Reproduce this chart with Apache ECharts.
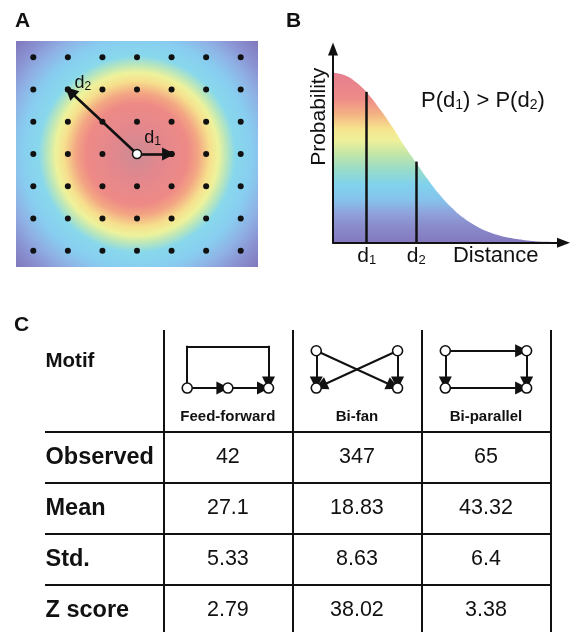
<!DOCTYPE html>
<html><head><meta charset="utf-8">
<script src="https://cdn.jsdelivr.net/npm/echarts@6.0.0/dist/echarts.min.js"></script>
<style>html,body{margin:0;padding:0;background:#fff;}#main{width:572px;height:632px;}</style>
</head><body><div id="main"></div>
<script>
// ---------------- data ----------------
// Panel A: lattice of neuron positions, source neuron and two targets
const latticeCols = [0, 1, 2, 3, 4, 5, 6];
const latticeRows = [0, 1, 2, 3, 4, 5, 6];
const sourcePos = [3, 3];
const target1Pos = [4, 3];
const target2Pos = [1, 1];

// Panel B: connection probability vs distance
const distance = [0, 0.5, 1, 1.5, 2, 2.5, 3, 3.5, 4, 4.5, 5, 5.5, 6, 6.5, 7, 7.5, 8, 8.5, 9, 9.5];
const probability = [1.0, 0.985, 0.94, 0.87, 0.78, 0.68, 0.57, 0.47, 0.37, 0.28, 0.205, 0.145, 0.1, 0.066, 0.043, 0.027, 0.016, 0.009, 0.005, 0.003];
const markNames = ['1', '2'];
const markDistance = [1.42, 3.5];
const markProbability = [0.887, 0.477];

// Panel C: motif table
const motifNames = ['Feed-forward', 'Bi-fan', 'Bi-parallel'];
const rowNames = ['Observed', 'Mean', 'Std.', 'Z score'];
const observed = [42, 347, 65];
const meanVals = [27.1, 18.83, 43.32];
const stdVals = [5.33, 8.63, 6.4];
const zScores = [2.79, 38.02, 3.38];
// motif topologies: nodes on a tiny lattice (x 0..1, row 0 = top, 1 = bottom) and directed edges
const motifNodes = [
  [[0, 1], [0.5, 1], [1, 1]],
  [[0, 0], [1, 0], [0, 1], [1, 1]],
  [[0, 0], [1, 0], [0, 1], [1, 1]]
];
const motifEdges = [
  [[0, 1], [1, 2]],
  [[0, 2], [1, 3], [0, 3], [1, 2]],
  [[0, 1], [0, 2], [1, 3], [2, 3]]
];
const motifBypass = [[0, 2], null, null]; // edge routed as a bracket over the top

// ---------------- layout / style ----------------
const FONT = "'Liberation Sans', Arial, Helvetica, sans-serif";
const INK = '#111111';
const colLines = [0, 1, 2, 3];
const rowLines = [2, 3, 4, 5];
const labelX = -0.917;
const motifSpan = 0.63, motifRowY = [0.407, 1.14], bracketY = 0.328;
const subRich = (size, pad) => ({ s: { fontSize: size, padding: [pad, 0, 0, 0], fontFamily: FONT, color: INK } });

const heat = new echarts.graphic.RadialGradient(0.5, 0.5, 0.75, [
  { offset: 0, color: '#cd8b93' },
  { offset: 0.15, color: '#e3878d' },
  { offset: 0.3, color: '#ee8a86' },
  { offset: 0.36, color: '#f3a583' },
  { offset: 0.43, color: '#f6df8d' },
  { offset: 0.48, color: '#eef29b' },
  { offset: 0.53, color: '#b8e6bc' },
  { offset: 0.58, color: '#88d8ec' },
  { offset: 0.68, color: '#88cdf0' },
  { offset: 0.78, color: '#8fb0e4' },
  { offset: 0.87, color: '#8a92d2' },
  { offset: 1, color: '#7d72b8' }
]);
const rainbow = new echarts.graphic.LinearGradient(0, 0, 0, 1, [
  { offset: 0, color: '#e5808f' },
  { offset: 0.15, color: '#ee8a88' },
  { offset: 0.24, color: '#f4b083' },
  { offset: 0.33, color: '#f6e48e' },
  { offset: 0.4, color: '#eef09a' },
  { offset: 0.48, color: '#c2e6a8' },
  { offset: 0.57, color: '#98dcc8' },
  { offset: 0.66, color: '#80d2ee' },
  { offset: 0.75, color: '#86c2ec' },
  { offset: 0.82, color: '#8fa4dc' },
  { offset: 0.9, color: '#8a8ccc' },
  { offset: 1, color: '#8378be' }
]);

// ---------------- derived series data ----------------
const latticeData = [];
latticeRows.forEach(r => latticeCols.forEach(c => latticeData.push([c, r])));

const curveData = distance.map((x, i) => [x, probability[i]]);
const markSegments = markDistance.map((x, i) => [{ coord: [x, 0] }, { coord: [x, markProbability[i]] }]);

const valueCells = [];
[observed, meanVals, stdVals, zScores].forEach((row, r) => row.forEach((v, c) => {
  valueCells.push({ value: [c + 0.5, r + 2.5], text: String(v) });
}));
const rowLabelCells = [{ value: [labelX, 0.61], text: 'Motif', label: { fontSize: 20.5 } }]
  .concat(rowNames.map((n, r) => ({ value: [labelX, r + 2.5], text: n })));
const motifLabelCells = motifNames.map((n, m) => ({ value: [m + 0.5, 1.71], text: n }));

const mNodes = [], mLinks = [];
const mx = (m, lx) => m + 0.5 + (lx - 0.5) * motifSpan;
motifNodes.forEach((nodes, m) => {
  nodes.forEach((n, j) => mNodes.push({ name: 'm' + m + 'n' + j, value: [mx(m, n[0]), motifRowY[n[1]]] }));
  motifEdges[m].forEach(e => mLinks.push({ source: 'm' + m + 'n' + e[0], target: 'm' + m + 'n' + e[1] }));
  const b = motifBypass[m];
  if (b) {
    const hidden = { symbolSize: 0, itemStyle: { borderWidth: 0, color: 'rgba(0,0,0,0)' } };
    mNodes.push(Object.assign({ name: 'm' + m + 'w0', value: [mx(m, nodes[b[0]][0]), bracketY] }, hidden));
    mNodes.push(Object.assign({ name: 'm' + m + 'w1', value: [mx(m, nodes[b[1]][0]), bracketY] }, hidden));
    mLinks.push({ source: 'm' + m + 'n' + b[0], target: 'm' + m + 'w0', symbol: ['none', 'none'], lineStyle: { cap: 'square' } });
    mLinks.push({ source: 'm' + m + 'w0', target: 'm' + m + 'w1', symbol: ['none', 'none'], lineStyle: { cap: 'square' } });
    mLinks.push({ source: 'm' + m + 'w1', target: 'm' + m + 'n' + b[1], lineStyle: { cap: 'square' } });
  }
});

const dLabel = (k, dx, dy) => ({
  show: true, position: 'inside', offset: [dx, dy], formatter: 'd{s|' + k + '}',
  fontSize: 18, color: INK, fontFamily: FONT, rich: subRich(12, 7)
});
const textItem = { color: 'rgba(0,0,0,0)', opacity: 1 };

const option = {
  animation: false,
  backgroundColor: '#fff',
  textStyle: { fontFamily: FONT },
  title: [
    { text: 'A', left: 15, top: 11, padding: 0, textStyle: { fontSize: 21, fontWeight: 'bold', color: INK, fontFamily: FONT } },
    { text: 'B', left: 286, top: 11, padding: 0, textStyle: { fontSize: 21, fontWeight: 'bold', color: INK, fontFamily: FONT } },
    { text: 'C', left: 14, top: 315, padding: 0, textStyle: { fontSize: 21, fontWeight: 'bold', color: INK, fontFamily: FONT } },
    { text: 'P(d{s|' + markNames[0] + '}) > P(d{s|' + markNames[1] + '})', left: 421, top: 89, padding: 0,
      textStyle: { fontSize: 22, fontWeight: 'normal', color: INK, fontFamily: FONT, rich: subRich(14, 9) } }
  ],
  grid: [
    { left: 16, top: 41, width: 242, height: 226, show: true, backgroundColor: heat, borderWidth: 0 },
    { left: 333, top: 49, right: 8.5, bottom: 389.3 },
    { left: 45, right: 21.5, top: 330, bottom: 0 }
  ],
  xAxis: [
    { gridIndex: 0, type: 'value', min: -0.5, max: 6.5, show: false },
    { gridIndex: 1, type: 'value', min: 0, max: 9.7, z: 10,
      axisLine: { show: true, symbol: ['none', 'triangle'], symbolSize: [10, 13], lineStyle: { color: INK, width: 2 } },
      axisTick: { show: false }, splitLine: { show: false },
      axisLabel: { customValues: markDistance, margin: 3, fontSize: 21, color: INK, fontFamily: FONT, rich: subRich(13, 8),
        formatter: v => 'd{s|' + markNames[markDistance.indexOf(v)] + '}' },
      name: 'Distance', nameLocation: 'end', nameGap: -25,
      nameTextStyle: { fontSize: 22, color: INK, fontFamily: FONT, align: 'right', verticalAlign: 'top', padding: [2, 0, 0, 0] } },
    { gridIndex: 2, type: 'value', min: labelX, max: 3, show: false }
  ],
  yAxis: [
    { gridIndex: 0, type: 'value', min: -0.5, max: 6.5, inverse: true, show: false },
    { gridIndex: 1, type: 'value', min: 0, max: 1.139, z: 10,
      axisLine: { show: true, symbol: ['none', 'triangle'], symbolSize: [10, 13], lineStyle: { color: INK, width: 2 } },
      axisTick: { show: false }, splitLine: { show: false }, axisLabel: { show: false },
      name: 'Probability', nameLocation: 'middle', nameGap: 3,
      nameTextStyle: { fontSize: 21, color: INK, fontFamily: FONT, padding: [0, 0, 0, 58] } },
    { gridIndex: 2, type: 'value', min: 0, max: 5.93, inverse: true, show: false }
  ],
  series: [
    { type: 'scatter', xAxisIndex: 0, yAxisIndex: 0, silent: true, symbolSize: 6, itemStyle: { color: INK, opacity: 1 }, data: latticeData },
    { type: 'graph', layout: 'none', coordinateSystem: 'cartesian2d', xAxisIndex: 0, yAxisIndex: 0, silent: true, z: 5,
      edgeSymbol: ['none', 'triangle'], edgeSymbolSize: 13,
      lineStyle: { color: INK, width: 2.6, opacity: 1, curveness: 0 },
      data: [
        { name: 'src', value: sourcePos, symbolSize: 9, itemStyle: { color: '#fff', borderColor: INK, borderWidth: 1.5 } },
        { name: 't1', value: target1Pos, symbolSize: 6, itemStyle: { color: INK }, label: dLabel(markNames[0], -19, -16) },
        { name: 't2', value: target2Pos, symbolSize: 6, itemStyle: { color: INK }, label: dLabel(markNames[1], 15, -6) }
      ],
      links: [{ source: 'src', target: 't1' }, { source: 'src', target: 't2' }] },
    { type: 'line', xAxisIndex: 1, yAxisIndex: 1, silent: true, smooth: true, symbol: 'none',
      lineStyle: { width: 0, opacity: 0 }, areaStyle: { color: rainbow, opacity: 1 }, data: curveData,
      markLine: { silent: true, symbol: 'none', label: { show: false }, lineStyle: { color: INK, width: 2.5, type: 'solid' }, data: markSegments } },
    { type: 'scatter', xAxisIndex: 2, yAxisIndex: 2, silent: true, symbolSize: 1, itemStyle: textItem,
      label: { show: true, position: 'inside', fontSize: 21.5, color: INK, fontFamily: FONT, formatter: p => p.data.text },
      data: valueCells,
      markLine: { silent: true, symbol: 'none', label: { show: false }, lineStyle: { color: INK, width: 2, type: 'solid' },
        data: colLines.map(v => ({ xAxis: v })).concat(rowLines.map(v => ({ yAxis: v }))) } },
    { type: 'scatter', xAxisIndex: 2, yAxisIndex: 2, silent: true, symbolSize: 1, itemStyle: textItem,
      label: { show: true, position: 'right', distance: 0, fontSize: 23.5, fontWeight: 'bold', color: INK, fontFamily: FONT, formatter: p => p.data.text },
      data: rowLabelCells },
    { type: 'scatter', xAxisIndex: 2, yAxisIndex: 2, silent: true, symbolSize: 1, itemStyle: textItem,
      label: { show: true, position: 'inside', fontSize: 15, fontWeight: 'bold', color: INK, fontFamily: FONT, formatter: p => p.data.text },
      data: motifLabelCells },
    { type: 'graph', layout: 'none', coordinateSystem: 'cartesian2d', xAxisIndex: 2, yAxisIndex: 2, silent: true, z: 5,
      symbolSize: 10, itemStyle: { color: '#fff', borderColor: INK, borderWidth: 1.6 },
      edgeSymbol: ['none', 'triangle'], edgeSymbolSize: 13,
      lineStyle: { color: INK, width: 2, opacity: 1, curveness: 0 },
      data: mNodes, links: mLinks }
  ]
};

const chart = echarts.init(document.getElementById('main'), null, { renderer: 'canvas' });
chart.setOption(option);
</script>
</body></html>
